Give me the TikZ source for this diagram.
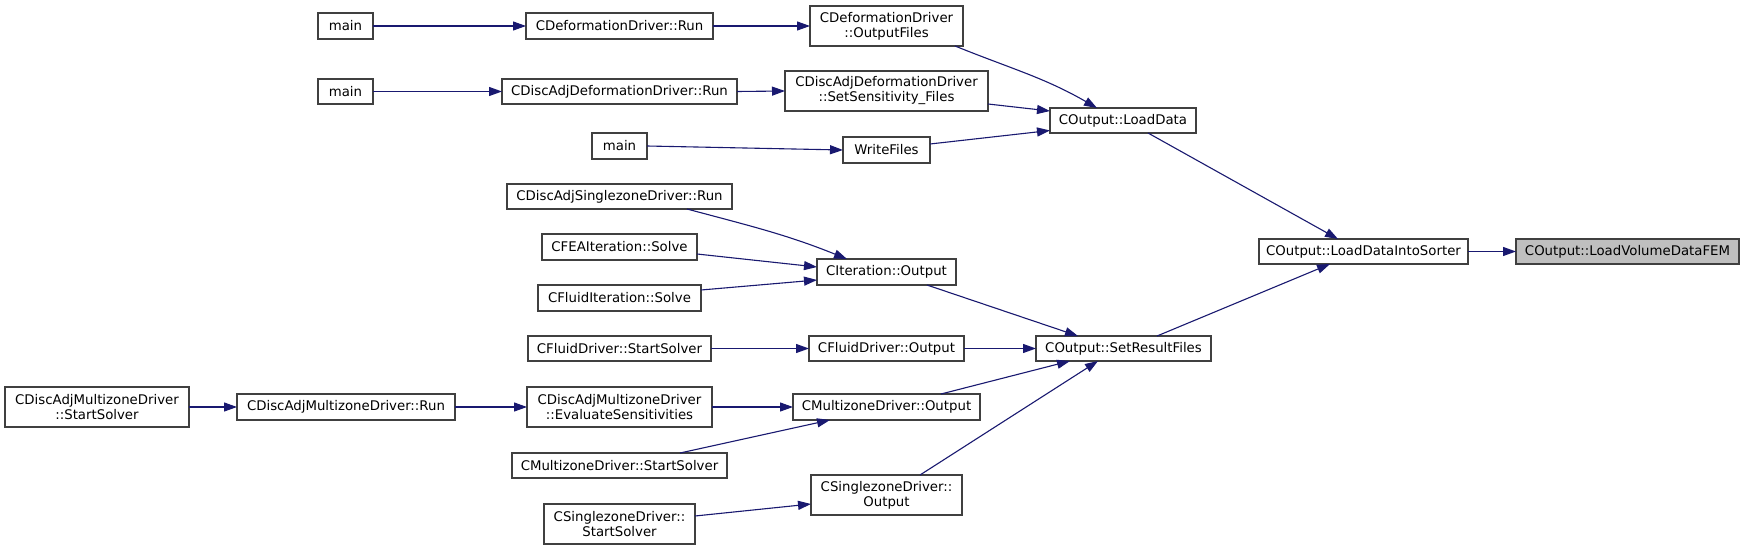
\documentclass[tikz,border=0pt]{standalone}
\usepackage{fontspec}
\setmainfont{DejaVu Sans}
\usetikzlibrary{arrows.meta}
\definecolor{edgec}{HTML}{191970}
\definecolor{boxc}{HTML}{404040}
\definecolor{hl}{HTML}{BFBFBF}
\begin{document}
\begin{tikzpicture}[x=1pt,y=-1pt,
  box/.style={draw=boxc, line width=1.1pt, fill=white, inner sep=0pt, outer sep=0pt, align=center, font=\fontsize{13.3}{15}\selectfont},
  link/.style={draw=edgec, line width=1.1pt, -{Triangle[length=13pt,width=9pt]}}]
\useasboundingbox (0,0) rectangle (1744,551);
\fill[white] (0,0) rectangle (1744,551);
% nodes
\node[box, minimum width=55pt, minimum height=26pt] (mainA) at (345.5,26) {main};
\node[box, minimum width=187pt, minimum height=26pt] (defRun) at (619.5,26) {CDeformationDriver::Run};
\node[box, minimum width=153pt, minimum height=40pt] (defOut) at (886.5,26) {CDeformationDriver\\::OutputFiles};
\node[box, minimum width=55pt, minimum height=25pt] (mainB) at (345.5,91.5) {main};
\node[box, minimum width=235pt, minimum height=25pt] (dadRun) at (619.5,91.5) {CDiscAdjDeformationDriver::Run};
\node[box, minimum width=203pt, minimum height=40pt] (dadSens) at (886.5,91) {CDiscAdjDeformationDriver\\::SetSensitivity\_Files};
\node[box, minimum width=55pt, minimum height=26pt] (mainC) at (619.5,146) {main};
\node[box, minimum width=87pt, minimum height=26pt] (writeF) at (886.5,150) {WriteFiles};
\node[box, minimum width=146pt, minimum height=25pt] (loadData) at (1123,120.5) {COutput::LoadData};
\node[box, minimum width=225pt, minimum height=25pt] (dasRun) at (619.5,196.5) {CDiscAdjSinglezoneDriver::Run};
\node[box, minimum width=155pt, minimum height=26pt] (feaSolve) at (619.5,247) {CFEAIteration::Solve};
\node[box, minimum width=139pt, minimum height=26pt] (itOut) at (886.5,272) {CIteration::Output};
\node[box, minimum width=163pt, minimum height=26pt] (fluidItSolve) at (619.5,298) {CFluidIteration::Solve};
\node[box, minimum width=183pt, minimum height=25pt] (fdStart) at (619.5,348.5) {CFluidDriver::StartSolver};
\node[box, minimum width=155pt, minimum height=25pt] (fdOut) at (886.5,348.5) {CFluidDriver::Output};
\node[box, minimum width=175pt, minimum height=25pt] (setRes) at (1123.5,348.5) {COutput::SetResultFiles};
\node[box, minimum width=184pt, minimum height=40pt] (damStart) at (97,407) {CDiscAdjMultizoneDriver\\::StartSolver};
\node[box, minimum width=218pt, minimum height=26pt] (damRun) at (346,407) {CDiscAdjMultizoneDriver::Run};
\node[box, minimum width=185pt, minimum height=40pt] (damEval) at (619.5,407) {CDiscAdjMultizoneDriver\\::EvaluateSensitivities};
\node[box, minimum width=187pt, minimum height=26pt] (mzOut) at (886.5,407) {CMultizoneDriver::Output};
\node[box, minimum width=215pt, minimum height=25pt] (mzStart) at (619.5,465.5) {CMultizoneDriver::StartSolver};
\node[box, minimum width=151pt, minimum height=40pt] (szOut) at (886.5,495) {CSinglezoneDriver::\\Output};
\node[box, minimum width=151pt, minimum height=40pt] (szStart) at (619.5,524) {CSinglezoneDriver::\\StartSolver};
\node[box, minimum width=209pt, minimum height=25pt] (sorter) at (1363.5,251.5) {COutput::LoadDataIntoSorter};
\node[box, fill=hl, minimum width=223pt, minimum height=25pt] (fem) at (1627.5,251.5) {COutput::LoadVolumeDataFEM};
% edges
\draw[link] (mainA) -- (defRun);
\draw[link] (defRun) -- (defOut);
\draw[link] (mainB) -- (dadRun);
\draw[link] (dadRun.east) -- (dadSens.west);
\draw[link] (mainC.east) -- (writeF.west);
\draw[link] ([xshift=-8pt]defOut.south east) to[out=-22,in=150] ([xshift=-26pt]loadData.north);
\draw[link] ([yshift=-13pt]dadSens.east) -- ([yshift=9.5pt]loadData.west);
\draw[link] ([yshift=6pt]writeF.east) -- ([yshift=-10pt]loadData.west);
\draw[link] ([xshift=67.5pt]dasRun.south) to[out=-15,in=158] ([xshift=-39.5pt]itOut.north);
\draw[link] ([yshift=-7pt]feaSolve.east) -- ([yshift=5pt]itOut.west);
\draw[link] ([yshift=8pt]fluidItSolve.east) -- ([yshift=-8pt]itOut.west);
\draw[link] ([xshift=40.5pt]itOut.south) -- ([xshift=-45.5pt]setRes.north);
\draw[link] (fdStart) -- (fdOut);
\draw[link] (fdOut) -- (setRes);
\draw[link] (damStart) -- (damRun);
\draw[link] (damRun) -- (damEval);
\draw[link] (damEval) -- (mzOut);
\draw[link] ([xshift=60.5pt]mzStart.north) -- ([xshift=-56.5pt]mzOut.south);
\draw[link] ([xshift=54.5pt]mzOut.north) -- ([xshift=-53.5pt]setRes.south);
\draw[link] ([xshift=33.5pt]szOut.north) -- ([xshift=-25.5pt]setRes.south);
\draw[link] ([yshift=8pt]szStart.east) -- ([yshift=-9pt]szOut.west);
\draw[link] ([xshift=25pt]loadData.south) -- ([xshift=-25.5pt]sorter.north);
\draw[link] ([xshift=33.5pt]setRes.north) -- ([xshift=-33.5pt]sorter.south);
\draw[link] (sorter) -- (fem);
\end{tikzpicture}
\end{document}
